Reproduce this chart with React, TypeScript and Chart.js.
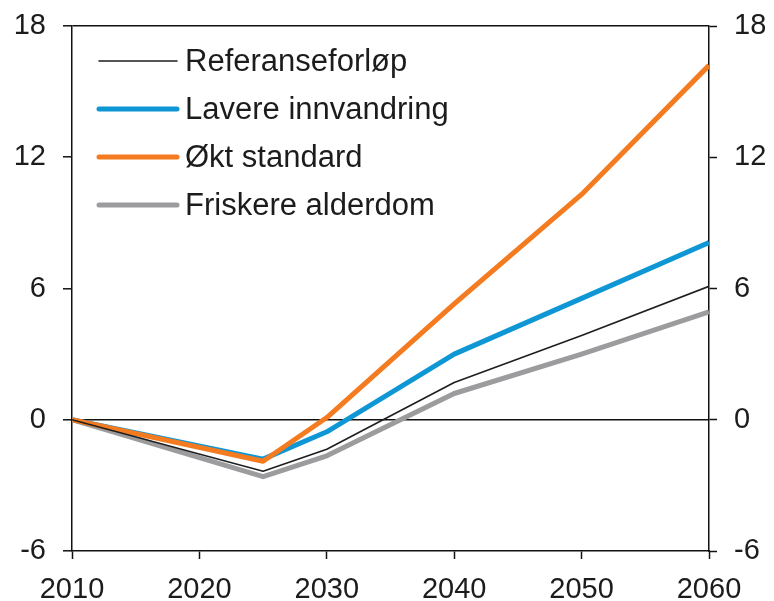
import React, { useEffect, useRef } from "react";
import { Chart, registerables } from "chart.js";

Chart.register(...registerables);

const years = [2010, 2025, 2030, 2040, 2050, 2060];
const referanse = [0, -2.35, -1.35, 1.7, 3.85, 6.1];
const lavereInnvandring = [0, -1.8, -0.55, 3.0, 5.55, 8.1];
const oktStandard = [0, -1.9, 0.1, 5.3, 10.3, 16.2];
const friskereAlderdom = [0, -2.6, -1.65, 1.2, 3.0, 4.93];
const yTicks = [-6, 0, 6, 12, 18];
const xTicks = [2010, 2020, 2030, 2040, 2050, 2060];

const seriesNames = ["Referanseforløp", "Lavere innvandring", "Økt standard", "Friskere alderdom"];
const seriesColors = ["#1e1e1e", "#0f96d4", "#f47b20", "#9c9c9e"];
const seriesWidths = [1.6, 5, 5, 5];
const seriesData = [referanse, lavereInnvandring, oktStandard, friskereAlderdom];
const seriesOrder = [0, 2, 1, 3];

const FONT = "'Liberation Sans', Arial, sans-serif";
const TEXT = "#1c1c1c";

const legendPlugin = {
  id: "insideLegend",
  afterDatasetsDraw(chart: any) {
    const { ctx, chartArea } = chart;
    ctx.save();
    const x0 = chartArea.left + 27;
    const x1 = chartArea.left + 105;
    const tx = chartArea.left + 113;
    chart.data.datasets.forEach((ds: any, i: number) => {
      const y = chartArea.top + 35 + i * 48;
      ctx.beginPath();
      ctx.strokeStyle = ds.borderColor;
      ctx.lineWidth = ds.borderWidth;
      ctx.lineCap = "round";
      ctx.moveTo(x0, y);
      ctx.lineTo(x1, y);
      ctx.stroke();
      ctx.fillStyle = TEXT;
      ctx.font = `31px ${FONT}`;
      ctx.textBaseline = "middle";
      ctx.textAlign = "left";
      ctx.fillText(ds.label, tx, y + 1);
    });
    ctx.restore();
  },
};

const noPad = (scale: any) => {
  scale.paddingTop = 0;
  scale.paddingBottom = 0;
  scale.paddingLeft = 0;
  scale.paddingRight = 0;
};

export default function App() {
  const ref = useRef<HTMLCanvasElement | null>(null);

  useEffect(() => {
    if (!ref.current) return;
    const chart = new Chart(ref.current, {
      type: "line",
      data: {
        datasets: seriesNames.map((name, i) => ({
          label: name,
          data: years.map((yr, j) => ({ x: yr, y: seriesData[i][j] })),
          borderColor: seriesColors[i],
          backgroundColor: seriesColors[i],
          borderWidth: seriesWidths[i],
          pointRadius: 0,
          tension: 0,
          order: seriesOrder[i],
          borderJoinStyle: "round" as const,
        })),
      },
      options: {
        animation: false,
        responsive: true,
        maintainAspectRatio: false,
        layout: { padding: { top: 26, left: 0, right: 0, bottom: 0 } },
        plugins: {
          legend: { display: false },
          tooltip: { enabled: false },
        },
        scales: {
          x: {
            type: "linear",
            position: "bottom",
            min: 2010,
            max: 2060,
            afterBuildTicks: (scale: any) => {
              scale.ticks = xTicks.map((v) => ({ value: v }));
            },
            ticks: {
              font: { size: 29, family: FONT },
              color: TEXT,
              padding: 14,
              maxRotation: 0,
              callback: (v: any) => String(v),
            },
            grid: { drawOnChartArea: false, tickLength: 8, tickColor: "#111", tickWidth: 1.5 },
            border: { color: "#111", width: 1.5 },
            afterFit: (scale: any) => {
              scale.height = 50;
              noPad(scale);
            },
          },
          y: {
            position: "left",
            min: -6,
            max: 18,
            afterBuildTicks: (scale: any) => {
              scale.ticks = yTicks.map((v) => ({ value: v }));
            },
            ticks: {
              font: { size: 29, family: FONT },
              color: TEXT,
              padding: 17,
            },
            grid: {
              drawOnChartArea: true,
              color: (c: any) => (c.tick && (c.tick.value === 0 || c.tick.value === 18) ? "#111" : "rgba(0,0,0,0)"),
              lineWidth: 1.6,
              tickLength: 9,
              tickColor: "#111",
              tickWidth: 1.5,
            },
            border: { color: "#111", width: 1.5 },
            afterFit: (scale: any) => {
              scale.width = 72;
              noPad(scale);
            },
          },
          y2: {
            position: "right",
            min: -6,
            max: 18,
            afterBuildTicks: (scale: any) => {
              scale.ticks = yTicks.map((v) => ({ value: v }));
            },
            ticks: {
              font: { size: 29, family: FONT },
              color: TEXT,
              padding: 17,
            },
            grid: { drawOnChartArea: false, tickLength: 8, tickColor: "#111", tickWidth: 1.5 },
            border: { color: "#111", width: 1.5 },
            afterFit: (scale: any) => {
              scale.width = 65;
              noPad(scale);
            },
          },
        },
      },
      plugins: [legendPlugin],
    });
    return () => chart.destroy();
  }, []);

  return (
    <div style={{ position: "fixed", left: 0, top: 0, width: 774, height: 601, background: "#fff" }}>
      <canvas ref={ref} />
    </div>
  );
}
